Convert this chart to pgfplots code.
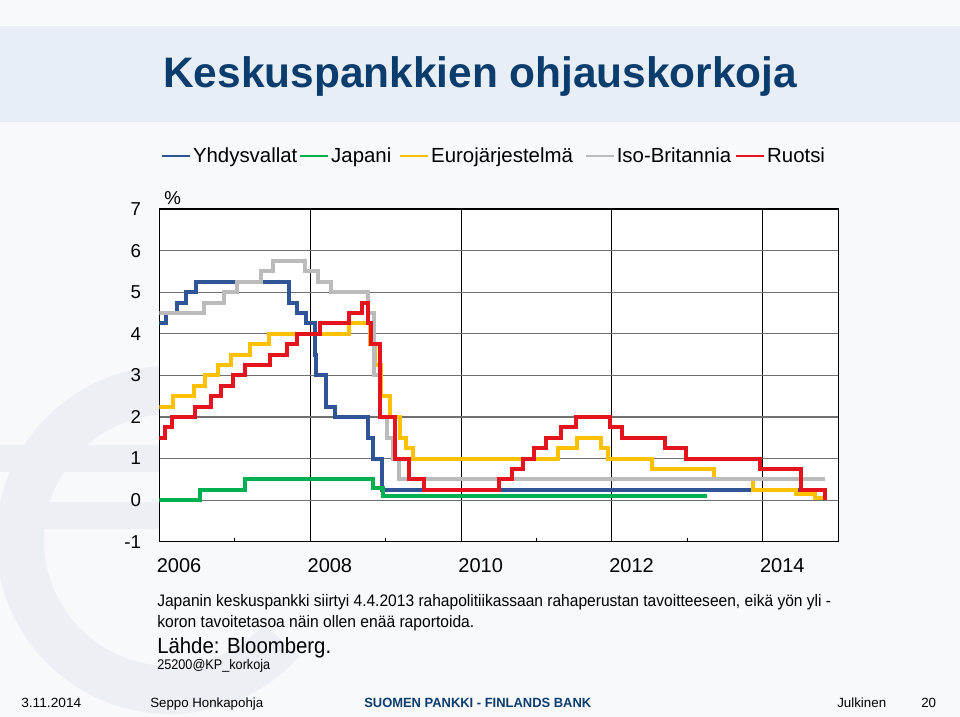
\documentclass[border=0pt]{standalone}
\usepackage{pgfplots}
\pgfplotsset{compat=1.18}
\usepackage{fontspec}
\setmainfont{Liberation Sans}
\usepackage{graphicx}
\definecolor{cblue}{HTML}{2F5597}
\definecolor{cgreen}{HTML}{00B050}
\definecolor{cyellow}{HTML}{FFC000}
\definecolor{cgray}{HTML}{BBBBBB}
\definecolor{cred}{HTML}{E5131D}
\definecolor{ctitle}{HTML}{0A3C6E}
\definecolor{band}{HTML}{E8EEF5}
\definecolor{bgc}{HTML}{F8F9FB}
\definecolor{eurc}{HTML}{ECF0F5}
\definecolor{ygrid}{HTML}{707070}
\begin{document}
\begin{tikzpicture}
\useasboundingbox (0,0) rectangle (720pt,-537.75pt);
\fill[bgc] (0,0) rectangle (720pt,-537.75pt);
\begin{scope}[x=0.75pt,y=-0.75pt]
  \begin{scope}
    \clip (0,0) rectangle (960,717);
    \draw[eurc, line width=36pt] (170,540) ++(42:150) arc[start angle=42, end angle=318, radius=150];
    \fill[eurc] (0,445) rectangle (165,472);
    \fill[eurc] (0,502) rectangle (165,529);
  \end{scope}
  \fill[band] (0,26) rectangle (960,122);
  \node[anchor=base west, inner sep=0pt, text=ctitle] at (163,88) {\resizebox{475.5pt}{\height}{\fontsize{32}{36}\selectfont\bfseries Keskuspankkien ohjauskorkoja}};
  \node[anchor=base west, inner sep=0pt] at (164,204) {\fontsize{14}{16}\selectfont \%};
  \node[anchor=base west, inner sep=0pt] at (157,606) {\resizebox{505.5pt}{\height}{\fontsize{12.5}{15}\selectfont Japanin keskuspankki siirtyi 4.4.2013 rahapolitiikassaan rahaperustan tavoitteeseen, eikä yön yli -}};
  \node[anchor=base west, inner sep=0pt] at (157,627) {\resizebox{237.75pt}{\height}{\fontsize{12.5}{15}\selectfont koron tavoitetasoa näin ollen enää raportoida.}};
  \node[anchor=base west, inner sep=0pt] at (157,653) {\resizebox{130.5pt}{\height}{\fontsize{16.5}{19}\selectfont Lähde: Bloomberg.}};
  \node[anchor=base west, inner sep=0pt] at (157,669) {\resizebox{84.75pt}{\height}{\fontsize{10.5}{12}\selectfont 25200@KP\_korkoja}};
  \node[anchor=base west, inner sep=0pt] at (21,707) {\resizebox{45pt}{\height}{\fontsize{10}{12}\selectfont 3.11.2014}};
  \node[anchor=base west, inner sep=0pt] at (150,707) {\resizebox{84.75pt}{\height}{\fontsize{10}{12}\selectfont Seppo Honkapohja}};
  \node[anchor=base west, inner sep=0pt, text=ctitle] at (364,707) {\resizebox{170.25pt}{\height}{\fontsize{10}{12}\selectfont\bfseries SUOMEN PANKKI - FINLANDS BANK}};
  \node[anchor=base west, inner sep=0pt] at (837,707) {\fontsize{10}{12}\selectfont Julkinen};
  \node[anchor=base west, inner sep=0pt] at (921,707) {\fontsize{10}{12}\selectfont 20};
\end{scope}
\begin{axis}[
  at={(119.6pt,-406.3pt)}, anchor=south west,
  width=509pt, height=249.5pt, scale only axis,
  xmin=2006, xmax=2015, ymin=-1, ymax=7,
  axis background/.style={fill=white},
  axis line style={black, line width=0.9pt},
  xtick={2006,2008,2010,2012,2014},
  xticklabels={2006,2008,2010,2012,2014},
  minor xtick={2007,2009,2011,2013},
  ytick={-1,0,1,2,3,4,5,6,7},
  yticklabels={-1,0,1,2,3,4,5,6,7},
  xmajorgrids, ymajorgrids,
  x grid style={black, line width=0.8pt},
  y grid style={ygrid, line width=0.9pt},
  major tick length=0pt, minor tick length=3pt,
  tick style={black, line width=0.8pt},
  tick pos=left,
  xticklabel style={font=\fontsize{15}{17}\selectfont, anchor=north, inner sep=0pt, xshift=14.7pt, yshift=-12.2pt},
  yticklabel style={font=\fontsize{14}{16}\selectfont, anchor=east, inner sep=0pt, xshift=-13.7pt},
  legend columns=5,
  legend style={at={(axis description cs:0.0025,1.159)}, anchor=west, draw=none, fill=none,
    inner sep=0pt, outer sep=0pt, font=\fontsize{15.3}{18}\selectfont,
    column sep=0pt, nodes={inner sep=0pt, outer sep=0pt},
    /tikz/every odd column/.append style={column sep=1.2pt}},
  legend image code/.code={\draw[#1, line width=1.7pt] (0pt,0pt) -- (21pt,0pt);},
  every axis plot/.append style={line width=3pt, mark=none, const plot},
]
\addplot[cblue] coordinates {(2006.0,4.25)(2006.082,4.50)(2006.234,4.75)(2006.353,5.00)(2006.490,5.25)(2007.712,4.75)(2007.830,4.50)(2007.942,4.25)(2008.057,3.50)(2008.079,3.00)(2008.210,2.25)(2008.329,2.00)(2008.770,1.50)(2008.827,1.00)(2008.956,0.25)(2014.83,0.25)};
\addlegendentry{Yhdysvallat\kern1.5pt}
\addplot[cgreen] coordinates {(2006.0,0.0)(2006.534,0.25)(2007.140,0.50)(2008.830,0.30)(2008.964,0.10)(2013.255,0.10)};
\addlegendentry{Japani\kern6pt}
\addplot[cyellow] coordinates {(2006.0,2.25)(2006.181,2.50)(2006.452,2.75)(2006.603,3.00)(2006.775,3.25)(2006.948,3.50)(2007.197,3.75)(2007.447,4.00)(2008.519,4.25)(2008.787,3.75)(2008.864,3.25)(2008.940,2.50)(2009.055,2.00)(2009.192,1.50)(2009.266,1.25)(2009.362,1.00)(2011.279,1.25)(2011.532,1.50)(2011.858,1.25)(2011.953,1.00)(2012.525,0.75)(2013.348,0.50)(2013.866,0.25)(2014.441,0.15)(2014.690,0.05)(2014.80,0.05)};
\addlegendentry{Eurojärjestelmä\kern9pt}
\addplot[cgray] coordinates {(2006.0,4.50)(2006.586,4.75)(2006.858,5.00)(2007.027,5.25)(2007.353,5.50)(2007.507,5.75)(2007.929,5.50)(2008.101,5.25)(2008.274,5.00)(2008.770,4.50)(2008.849,3.00)(2008.926,2.00)(2009.019,1.50)(2009.096,1.00)(2009.173,0.50)(2014.83,0.50)};
\addlegendentry{Iso-Britannia\kern3pt}
\addplot[cred] coordinates {(2006.0,1.50)(2006.07,1.75)(2006.16,2.00)(2006.47,2.25)(2006.68,2.50)(2006.82,2.75)(2006.97,3.00)(2007.13,3.25)(2007.47,3.50)(2007.69,3.75)(2007.83,4.00)(2008.13,4.25)(2008.51,4.50)(2008.69,4.75)(2008.77,4.25)(2008.81,3.75)(2008.92,2.00)(2009.12,1.00)(2009.31,0.50)(2009.51,0.25)(2010.50,0.50)(2010.68,0.75)(2010.82,1.00)(2010.97,1.25)(2011.13,1.50)(2011.32,1.75)(2011.52,2.00)(2011.98,1.75)(2012.14,1.50)(2012.70,1.25)(2012.98,1.00)(2013.97,0.75)(2014.51,0.25)(2014.83,0.00)};
\addlegendentry{Ruotsi}
\end{axis}
\end{tikzpicture}
\end{document}
